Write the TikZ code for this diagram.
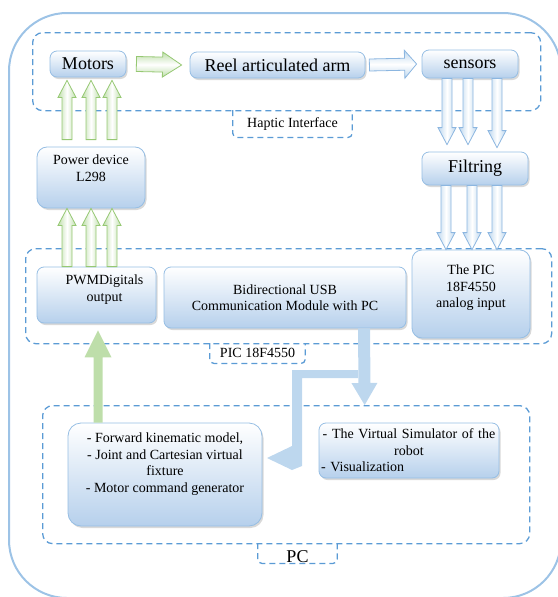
\documentclass[tikz,border=0pt]{standalone}
\usepackage{fontspec}
\setmainfont{Liberation Serif}
\usetikzlibrary{calc,shadows,positioning}
\definecolor{outerline}{RGB}{157,195,230}
\definecolor{groupline}{RGB}{91,155,213}
\definecolor{boxedge}{RGB}{150,190,228}
\definecolor{boxfill}{RGB}{182,208,236}
\definecolor{greenedge}{RGB}{150,200,115}
\definecolor{greenfill}{RGB}{190,222,170}
\definecolor{blueedge}{RGB}{140,182,224}
\definecolor{bluefill}{RGB}{189,215,238}
\newcommand\bigfont{\fontsize{18}{21}\selectfont}
\newcommand\midfont{\fontsize{14}{16.5}\selectfont}
\newcommand\blockarrow[4][]{%
  \path[#2] (#3) coordinate (ba-s) (#4) coordinate (ba-e)
    ($(ba-e)!\bahead!(ba-s)$) coordinate (ba-m);
  \path[#1,#2] ($(ba-s)!\bashaft!90:(ba-e)$) -- ($(ba-m)!\bashaft!90:(ba-e)$)
    -- ($(ba-m)!\bawing!90:(ba-e)$) -- (ba-e)
    -- ($(ba-m)!\bawing!-90:(ba-e)$) -- ($(ba-m)!\bashaft!-90:(ba-e)$)
    -- ($(ba-s)!\bashaft!-90:(ba-e)$) -- cycle;}
\tikzset{
  box/.style={draw=boxedge, line width=0.8pt, rounded corners=7pt,
    top color=white, bottom color=boxfill, inner sep=0pt, align=center,
    font=\midfont, drop shadow={shadow xshift=1.5pt, shadow yshift=-2pt, opacity=0.3}},
  boxtext/.style={align=center, font=\midfont, inner sep=0pt},
  dashline/.style={draw=groupline, line width=1.3pt, dash pattern=on 6pt off 4pt},
  groupbox/.style={dashline, rounded corners=10pt, inner sep=0pt},
  grouplabel/.style={font=\midfont, inner sep=0pt},
  thinarrow/.code={\def\bashaft{5pt}\def\bawing{9pt}\def\bahead{17pt}},
  widearrow/.code={\def\bashaft{7.5pt}\def\bawing{12.5pt}\def\bahead{19pt}},
  shortarrow/.code={\def\bashaft{6pt}\def\bawing{14pt}\def\bahead{12pt}},
  bigup/.code={\def\bashaft{4.5pt}\def\bawing{13.5pt}\def\bahead{27pt}},
  bigdown/.code={\def\bashaft{6pt}\def\bawing{13pt}\def\bahead{22pt}},
  greenup/.style={draw=greenedge, line width=0.8pt, left color=greenfill, right color=greenfill, middle color=white},
  greenright/.style={draw=greenedge, line width=0.8pt, top color=greenfill, bottom color=greenfill, middle color=white},
  bluedown/.style={draw=blueedge, line width=0.8pt, left color=bluefill, right color=bluefill, middle color=white},
  blueright/.style={draw=blueedge, line width=0.8pt, top color=bluefill, bottom color=bluefill, middle color=white},
  greenflat/.style={fill=greenfill},
  blueflat/.style={fill=bluefill}
}

\begin{document}
\begin{tikzpicture}[x=1pt, y=-1pt]
    \useasboundingbox (0,0) rectangle (557,597);
    \draw[outerline, line width=2pt, rounded corners=58pt] (9,13) rectangle (561,598);

    % haptic interface
    \node[groupbox, minimum width=508pt, minimum height=78pt, anchor=north west] (hapticgroup) at (32,32) {};
    \node[grouplabel, minimum width=119pt, minimum height=27pt, anchor=north] (hapticlabel) at (292.5,110) {Haptic Interface};
    \draw[dashline, rounded corners=4pt] (hapticlabel.north west) |- (hapticlabel.south) -| (hapticlabel.north east);
    \node[box, font=\bigfont, minimum width=76pt, minimum height=26pt] (motors) at (88,64) {Motors};
    \node[box, font=\bigfont, minimum width=175pt, minimum height=26pt] (arm) at (277.5,65) {Reel articulated arm};
    \node[box, font=\bigfont, minimum width=96pt, minimum height=28pt] (sensors) at (470,64) {sensors};
    \node[box, rounded corners=10pt, minimum width=108pt, minimum height=61pt,
        label={[boxtext, anchor=north, yshift=-8pt]north:{Power device\\L298}}] (power) at (91,177.5) {};
    \node[box, font=\bigfont, minimum width=106pt, minimum height=33pt] (filtring) at (475,168.5) {Filtring};

    % PIC
    \node[groupbox, minimum width=526pt, minimum height=95pt, anchor=north west] (picgroup) at (25,248) {};
    \node[grouplabel, minimum width=95pt, minimum height=20pt, anchor=north] (piclabel) at (257.5,343) {PIC 18F4550};
    \draw[dashline, rounded corners=4pt] (piclabel.north west) |- (piclabel.south) -| (piclabel.north east);
    \node[box, minimum width=119pt, minimum height=56pt,
        label={[boxtext, anchor=north, xshift=8pt, yshift=-8pt]north:{PWMDigitals\\output}}] (pwm) at (96.5,295) {};
    \node[box, minimum width=242pt, minimum height=61pt] (usb) at (285,297.5) {Bidirectional USB\\Communication Module with PC};
    \node[box, rounded corners=10pt, minimum width=118pt, minimum height=88pt,
        label={[boxtext, anchor=north, yshift=-15pt]north:{The PIC\\18F4550\\analog input}}] (picin) at (471,294) {};

    % PC
    \node[groupbox, minimum width=487pt, minimum height=138pt, anchor=north west] (pcgroup) at (42,405) {};
    \node[grouplabel, font=\bigfont, text height=18pt, minimum width=79pt, minimum height=20pt, anchor=north] (pclabel) at (297.5,543) {PC};
    \draw[dashline, rounded corners=4pt] (pclabel.north west) |- (pclabel.south) -| (pclabel.north east);
    \node[box, rounded corners=13pt, minimum width=194pt, minimum height=103pt,
        label={[boxtext, anchor=north, yshift=-10pt]north:{- Forward kinematic model,\\- Joint and Cartesian virtual\\fixture\\- Motor command generator}}] (forward) at (165,474.5) {};
    \node[box, text width=176pt, minimum width=180pt, minimum height=55pt] (virtual) at (409,450.5) {- The Virtual Simulator of the\\robot\\- Visualization\hfill\mbox{}};

    % arrows
    \blockarrow[greenright]{widearrow}{[xshift=10pt]motors.east}{[xshift=-8pt]arm.west}
    \blockarrow[blueright]{shortarrow}{[xshift=4pt]arm.east}{[xshift=-5pt]sensors.west}
    \blockarrow[greenup]{thinarrow}{[xshift=-24pt,yshift=7pt]power.north}{[xshift=-21pt,yshift=-3pt]motors.south}
    \blockarrow[greenup]{thinarrow}{[yshift=7pt]power.north}{[xshift=3pt,yshift=-3pt]motors.south}
    \blockarrow[greenup]{thinarrow}{[xshift=21pt,yshift=7pt]power.north}{[xshift=24pt,yshift=-3pt]motors.south}
    \blockarrow[greenup]{thinarrow}{[xshift=-29.5pt]pwm.north}{[xshift=-24pt]power.south}
    \blockarrow[greenup]{thinarrow}{[xshift=-5.5pt]pwm.north}{power.south}
    \blockarrow[greenup]{thinarrow}{[xshift=15.5pt]pwm.north}{[xshift=21pt]power.south}
    \blockarrow[bluedown]{thinarrow}{[xshift=-23pt]sensors.south}{[xshift=-28pt,yshift=7pt]filtring.north}
    \blockarrow[bluedown]{thinarrow}{[xshift=-2pt]sensors.south}{[xshift=-7pt,yshift=7pt]filtring.north}
    \blockarrow[bluedown]{thinarrow}{[xshift=27pt]sensors.south}{[xshift=22pt,yshift=4pt]filtring.north}
    \blockarrow[bluedown]{thinarrow}{[xshift=-29pt]filtring.south}{[xshift=-25pt]picin.north}
    \blockarrow[bluedown]{thinarrow}{[xshift=-3pt]filtring.south}{[xshift=1pt]picin.north}
    \blockarrow[bluedown]{thinarrow}{[xshift=22pt]filtring.south}{[xshift=26pt]picin.north}
    \blockarrow[greenflat]{bigup}{[xshift=-67pt]forward.north}{[xshift=1.5pt,yshift=-7pt]pwm.south}
    \blockarrow[blueflat]{bigdown}{[xshift=79pt]usb.south}{[xshift=78.5pt]pcgroup.north}
    \fill[blueflat] (358,370) -| (292,446) -- (267,458) -- (292,470) -- (302,466) |- (358,378) -- cycle;
\end{tikzpicture}
\end{document}
